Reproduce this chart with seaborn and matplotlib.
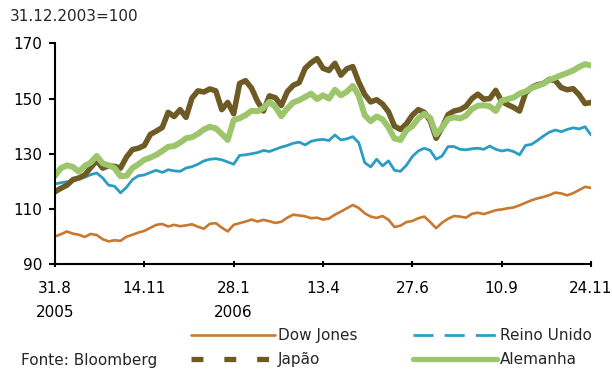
import matplotlib
matplotlib.use("Agg")
import matplotlib.pyplot as plt
from matplotlib.lines import Line2D
import numpy as np
import pandas as pd
import seaborn as sns

# Index levels, 31.12.2003 = 100, sampled every 5 days from 31.8.2005 to 24.11.2006
dates = pd.date_range("2005-08-31", periods=91, freq="5D")

dow_jones = [
    100.0, 100.8, 101.8, 101.0, 100.6, 99.8, 100.9, 100.5, 99.0, 98.2,
    98.6, 98.4, 99.9, 100.6, 101.4, 102.0, 103.1, 104.2, 104.5, 103.6,
    104.2, 103.7, 104.0, 104.4, 103.5, 102.8, 104.6, 104.8, 103.2, 101.8,
    104.2, 104.8, 105.4, 106.1, 105.4, 106.0, 105.5, 104.9, 105.3, 106.8,
    107.9, 107.6, 107.3, 106.6, 106.8, 106.1, 106.5, 107.9, 109.0, 110.2,
    111.4, 110.3, 108.4, 107.2, 106.7, 107.4, 106.0, 103.4, 103.9, 105.2,
    105.6, 106.6, 107.2, 105.2, 103.0, 105.0, 106.4, 107.4, 107.2, 106.8,
    108.2, 108.6, 108.1, 108.8, 109.5, 109.8, 110.2, 110.5, 111.3, 112.2,
    113.1, 113.8, 114.3, 115.0, 115.9, 115.6, 114.9, 115.7, 116.8, 118.0,
    117.6,
]

reino_unido = [
    119.0, 119.5, 119.8, 120.2, 120.8, 121.5, 122.4, 123.0, 121.2, 118.6,
    118.2, 115.8, 117.8, 120.6, 122.0, 122.3, 123.2, 124.0, 123.2, 124.2,
    123.8, 123.6, 124.8, 125.3, 126.2, 127.4, 128.0, 128.2, 127.8, 127.0,
    126.2, 129.4, 129.6, 130.0, 130.4, 131.2, 130.8, 131.6, 132.4, 133.0,
    133.8, 134.2, 133.2, 134.5, 135.0, 135.2, 134.8, 136.8, 135.0, 135.4,
    136.2, 134.0, 126.8, 125.2, 128.0, 125.6, 127.4, 124.0, 123.6, 125.8,
    129.0, 131.0, 132.0, 131.2, 128.0, 129.2, 132.6, 132.6, 131.6, 131.4,
    131.8, 132.0, 131.6, 132.8, 131.6, 131.0, 131.4, 130.8, 129.6, 133.0,
    133.4, 134.8, 136.4, 137.8, 138.6, 138.0, 138.8, 139.4, 139.0, 139.8,
    136.8,
]

japao = [
    116.2, 117.5, 118.6, 120.6, 121.2, 122.3, 125.0, 127.5, 124.8, 125.6,
    125.4, 124.8, 128.8, 131.5, 132.0, 133.0, 137.0, 138.2, 139.5, 145.0,
    143.5, 146.0, 143.2, 150.2, 152.8, 152.4, 153.5, 152.8, 146.0, 148.6,
    144.5, 155.5, 156.5, 153.8, 149.0, 145.5, 151.0, 150.3, 147.5, 152.5,
    154.8, 155.8, 161.0, 163.0, 164.5, 161.0, 160.2, 162.8, 158.5, 160.8,
    161.6, 156.0, 151.5, 148.8, 149.6, 148.0, 145.2, 140.0, 138.8, 140.8,
    144.0, 146.0, 145.0, 142.0, 135.6, 139.5, 144.2, 145.5, 146.0, 147.2,
    150.0, 151.6, 149.8, 150.0, 153.0, 149.0, 147.8, 146.8, 145.5, 152.0,
    154.0, 155.0, 155.5, 157.0, 156.5, 154.0, 153.2, 153.6, 151.4, 148.2,
    148.6,
]

alemanha = [
    122.0, 124.8, 125.8, 125.2, 123.5, 125.6, 126.8, 129.2, 126.5, 125.8,
    124.8, 121.8, 122.0, 124.8, 126.2, 127.8, 128.6, 129.6, 131.0, 132.5,
    132.8, 134.0, 135.6, 136.0, 137.2, 138.8, 139.8, 139.2, 137.2, 135.0,
    142.2, 142.9, 144.0, 145.6, 145.4, 146.6, 148.8, 147.0, 143.6, 146.4,
    148.6, 149.4, 150.6, 151.8, 149.8, 151.2, 150.0, 153.2, 151.2, 152.5,
    154.6, 151.0, 144.0, 141.8, 143.5, 142.5, 139.5, 135.5, 135.0, 138.5,
    140.0, 142.8, 144.5, 143.0, 137.0, 139.5, 142.6, 143.2, 142.8, 143.8,
    146.2, 147.4, 147.6, 147.2, 145.5, 149.2, 149.8, 150.4, 151.8, 152.6,
    153.8, 154.6, 155.4, 156.8, 157.6, 158.5, 159.3, 160.2, 161.5, 162.5,
    162.0,
]

tick_dates = pd.date_range("2005-08-31", periods=7, freq="75D")
tick_labels = ["31.8\n2005", "14.11", "28.1\n2006", "13.4", "27.6", "10.9", "24.11"]
y_ticks = [90, 110, 130, 150, 170]

series_names = ["Dow Jones", "Reino Unido", "Japão", "Alemanha"]
colors = {
    "Dow Jones": "#C8782F",
    "Reino Unido": "#2B9CC3",
    "Japão": "#6E5A24",
    "Alemanha": "#9CC56C",
}
widths = {"Dow Jones": 1.9, "Reino Unido": 2.0, "Japão": 4.0, "Alemanha": 4.3}

df = pd.DataFrame({
    "data": np.tile(dates, 4),
    "indice": dow_jones + reino_unido + japao + alemanha,
    "serie": np.repeat(series_names, len(dates)),
})

sns.set_style("white")
plt.rcParams["font.family"] = ["DejaVu Sans"]

fig = plt.figure(figsize=(6.12, 3.69), dpi=100)
ax = fig.add_axes([0.0899, 0.2846, 0.8758, 0.5976])

for name in series_names:
    sns.lineplot(
        data=df[df["serie"] == name], x="data", y="indice",
        color=colors[name], linewidth=widths[name], ax=ax, legend=False,
    )

ax.set_xlim(tick_dates[0], tick_dates[-1])
ax.set_ylim(90, 170)
ax.set_xticks(tick_dates)
ax.set_xticklabels(tick_labels, linespacing=1.75)
ax.set_yticks(y_ticks)
ax.set_xlabel("")
ax.set_ylabel("")

for side in ("top", "right"):
    ax.spines[side].set_visible(False)
for side in ("left", "bottom"):
    ax.spines[side].set_linewidth(1.5)
    ax.spines[side].set_color("black")

ax.tick_params(axis="y", direction="out", length=4, width=1.5, pad=5,
               labelsize=11, colors="black", left=True)
ax.tick_params(axis="x", direction="inout", length=5, width=1.5, pad=10,
               labelsize=11, colors="black", bottom=True)

fig.text(10 / 612, 1 - 16.7 / 369, "31.12.2003=100", fontsize=11,
         ha="left", va="center")
fig.text(21 / 612, 1 - 360 / 369, "Fonte: Bloomberg", fontsize=11,
         ha="left", va="center")

handles = [
    Line2D([], [], color=colors["Dow Jones"], lw=1.9),
    Line2D([], [], color=colors["Japão"], lw=3.8, linestyle=(0, (2.26, 3.96)),
           dash_capstyle="butt"),
    Line2D([], [], color=colors["Reino Unido"], lw=1.95, linestyle=(0, (7.4, 4.1)),
           dash_capstyle="butt"),
    Line2D([], [], color=colors["Alemanha"], lw=3.8),
]
labels = ["Dow Jones", "Japão", "Reino Unido", "Alemanha"]
fig.legend(handles, labels, ncol=2, loc="upper left",
           bbox_to_anchor=(191 / 612, 1 - 328 / 369), frameon=False,
           fontsize=11, handlelength=5.5, handletextpad=0.2,
           columnspacing=3.6, labelspacing=0.6, borderpad=0,
           borderaxespad=0)

fig.savefig("out.png", dpi=100)
